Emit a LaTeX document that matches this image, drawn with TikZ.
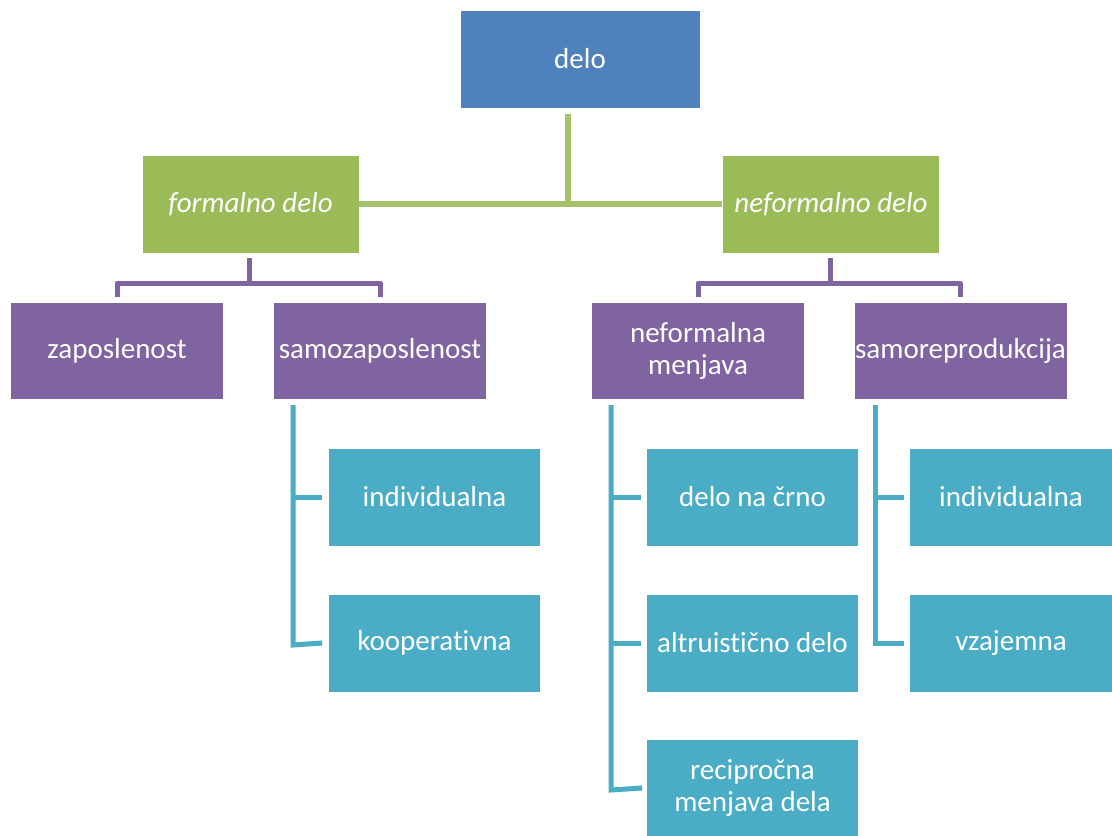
\documentclass[tikz,border=0pt]{standalone}
\usepackage{fontspec}
\setmainfont{Carlito}[Ligatures=NoCommon]
\definecolor{topblue}{HTML}{4F81BD}
\definecolor{lvlgreen}{HTML}{9BBB59}
\definecolor{lvlpurple}{HTML}{8064A2}
\definecolor{lvlcyan}{HTML}{4BACC6}
\tikzset{
  box/.style={rectangle, draw=white, line width=0.6pt, text=white, align=center,
    font=\fontsize{29}{32}\selectfont, inner sep=0pt},
  topbox/.style={box, fill=topblue, minimum width=240pt, minimum height=98pt},
  greenbox/.style={box, fill=lvlgreen, minimum width=217pt, minimum height=98pt, font=\fontsize{29}{32}\selectfont\itshape},
  purplebox/.style={box, fill=lvlpurple, minimum width=213pt, minimum height=97pt},
  cyanbox/.style={box, fill=lvlcyan, minimum width=212pt, minimum height=98pt},
  glink/.style={draw=lvlgreen!90!white, line width=5.5pt},
  plink/.style={draw=lvlpurple, line width=5pt},
  clink/.style={draw=lvlcyan, line width=5pt},
}
\begin{document}
\begin{tikzpicture}[x=1pt,y=-1pt]
\useasboundingbox (0,0) rectangle (1112,836);
\fill[white] (0,0) rectangle (1112,836);

% root
\node[topbox] (delo) at (580,59) {delo};

% second level
\node[greenbox] (formal) at (250.5,204) {formalno delo};
\node[greenbox] (neformal) at (831,204) {neformalno delo};

% third level
\node[purplebox] (zap) at (117,351) {zaposlenost};
\node[purplebox] (samozap) at (380,351) {samozaposlenost};
\node[purplebox] (nefmen) at (698,351) {neformalna\\menjava};
\node[purplebox] (samorep) at (960.5,351) {samoreprodukcija};

% leaves
\node[cyanbox] (indL) at (434.5,497) {individualna};
\node[cyanbox] (koop) at (434.5,643) {kooperativna};
\node[cyanbox] (crno) at (752.5,497) {delo na črno};
\node[cyanbox] (altr) at (752.5,643) {altruistično delo};
\node[cyanbox] (reci) at (752.5,788) {recipročna\\menjava dela};
\node[cyanbox, minimum width=204pt] (indR) at (1011,497) {individualna};
\node[cyanbox, minimum width=204pt] (vzaj) at (1011,643) {vzajemna};

% junction points
\coordinate (gmid) at (568,205);
\coordinate (pl) at (249,283);
\coordinate (pr) at (830,283);

% green links
\draw[glink] (568,114) -- (gmid);
\draw[glink] (formal.east) -- (neformal.west);

% purple links
\draw[plink] (249,258) -- (pl);
\draw[plink, line join=round] (117,297) -- (117,283) -- (380,283) -- (380,297);
\draw[plink] (830,258) -- (pr);
\draw[plink, line join=round] (698,297) -- (698,283) -- (960,283) -- (960,297);

% cyan links
\draw[clink, line join=miter] (293,405) -- (293,645) -- ([xshift=-6pt]koop.west);
\draw[clink] (293,497) -- ([xshift=-6pt]indL.west);
\draw[clink, line join=miter] (611,405) -- (611,790) -- ([xshift=-4pt]reci.west);
\draw[clink] (611,497) -- ([xshift=-5pt]crno.west);
\draw[clink] (611,643) -- ([xshift=-5pt]altr.west);
\draw[clink, line join=miter] (875,405) -- (875,643) -- ([xshift=-5pt]vzaj.west);
\draw[clink] (875,497) -- ([xshift=-5pt]indR.west);
\end{tikzpicture}
\end{document}
